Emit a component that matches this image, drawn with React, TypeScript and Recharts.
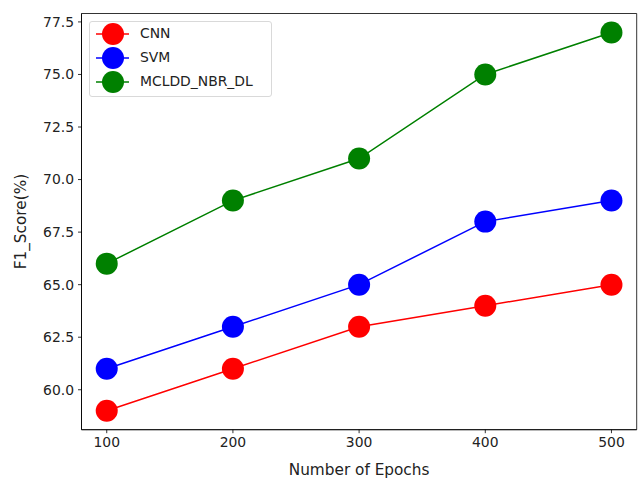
import React from "react";
import { LineChart, Line, XAxis, YAxis, Label, ReferenceArea } from "recharts";

const epochs = [100, 200, 300, 400, 500];
const cnn = [59, 61, 63, 64, 65];
const svm = [61, 63, 65, 68, 69];
const mcldd = [66, 69, 71, 75, 77];
const yTicks = [60, 62.5, 65, 67.5, 70, 72.5, 75, 77.5];
const xTicks = [100, 200, 300, 400, 500];

const series = [
  { key: "cnn", name: "CNN", color: "#ff0000" },
  { key: "svm", name: "SVM", color: "#0000ff" },
  { key: "mcldd", name: "MCLDD_NBR_DL", color: "#008000" },
];

const data = epochs.map((e, i) => ({ epoch: e, cnn: cnn[i], svm: svm[i], mcldd: mcldd[i] }));

const FONT = "DejaVu Sans, sans-serif";
const FS = 13.9;
const LFS = 15.3;

const Dot = (props: any) => {
  const { cx, cy, stroke } = props;
  if (cx == null || cy == null) return null;
  return <circle cx={cx} cy={cy} r={11} fill={stroke} stroke={stroke} strokeWidth={0} />;
};

const LegendBox = () => (
  <div
    style={{
      position: "absolute",
      left: 89,
      top: 21,
      width: 183,
      height: 76,
      boxSizing: "border-box",
      border: "1px solid #d9d9d9",
      borderRadius: 3,
      background: "rgba(255,255,255,0.8)",
      fontFamily: FONT,
      fontSize: FS,
      color: "#222",
    }}
  >
    {series.map((s, i) => (
      <div key={s.key} style={{ position: "absolute", left: 0, top: i * 24, height: 24, width: 181 }}>
        <svg width={50} height={24} style={{ position: "absolute", left: 5, top: 0 }}>
          <line x1={1} y1={12} x2={34} y2={12} stroke={s.color} strokeWidth={1.5} />
          <circle cx={18} cy={12} r={11} fill={s.color} />
        </svg>
        <span style={{ position: "absolute", left: 50, top: 3, whiteSpace: "nowrap" }}>{s.name}</span>
      </div>
    ))}
  </div>
);

export default function App() {
  return (
    <div style={{ position: "absolute", left: 0, top: 0, width: 643, height: 480, background: "#fff" }}>
      <LineChart
        width={643}
        height={480}
        data={data}
        margin={{ top: 13.5, right: 6.3, bottom: 0, left: 0 }}
      >
        <XAxis
          dataKey="epoch"
          type="number"
          domain={[80, 520]}
          ticks={xTicks}
          height={50.3}
          tickSize={3.5}
          tick={{ fill: "#222", fontFamily: FONT, fontSize: FS }}
          tickMargin={4}
          axisLine={{ stroke: "#000", strokeWidth: 0.8 }}
          tickLine={{ stroke: "#000", strokeWidth: 0.8 }}
        >
          <Label value="Number of Epochs" position="insideBottom" offset={5} style={{ fill: "#222", fontFamily: FONT, fontSize: LFS }} />
        </XAxis>
        <YAxis
          type="number"
          domain={[58.1, 77.9]}
          ticks={yTicks}
          width={81.5}
          allowDataOverflow
          tickFormatter={(v: number) => v.toFixed(1)}
          tickSize={3.5}
          tickMargin={4}
          tick={{ fill: "#222", fontFamily: FONT, fontSize: FS }}
          axisLine={{ stroke: "#000", strokeWidth: 0.8 }}
          tickLine={{ stroke: "#000", strokeWidth: 0.8 }}
        >
          <Label value="F1_Score(%)" angle={-90} position="insideLeft" offset={21} style={{ fill: "#222", fontFamily: FONT, fontSize: LFS, textAnchor: "middle" }} />
        </YAxis>
        <ReferenceArea
          x1={80}
          x2={520}
          y1={58.1}
          y2={77.9}
          fill="none"
          fillOpacity={0}
          stroke="#000"
          strokeWidth={0.8}
          strokeOpacity={1}
          ifOverflow="visible"
        />
        {series.map((s) => (
          <Line
            key={s.key}
            dataKey={s.key}
            name={s.name}
            stroke={s.color}
            strokeWidth={1.5}
            dot={<Dot />}
            activeDot={false}
            isAnimationActive={false}
          />
        ))}
      </LineChart>
      <LegendBox />
    </div>
  );
}
